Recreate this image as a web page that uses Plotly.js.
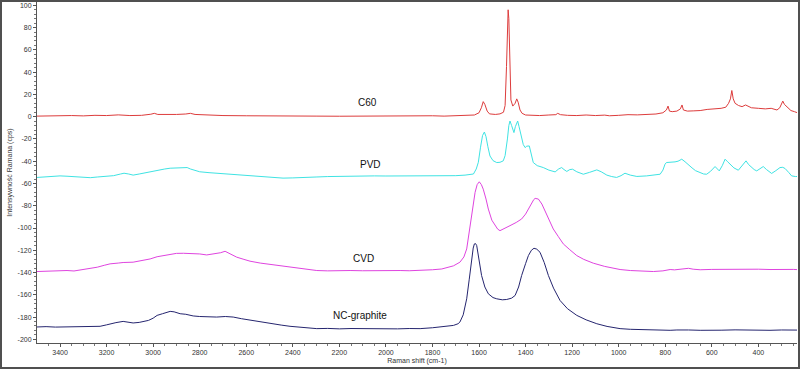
<!DOCTYPE html>
<html>
<head>
<meta charset="utf-8">
<script src="https://cdn.plot.ly/plotly-3.0.1.min.js"></script>
<style>
html,body{margin:0;padding:0;background:#fff;}
#wrap{position:relative;width:800px;height:369px;}
#chart{width:800px;height:369px;}
#frame{position:absolute;left:0;top:0;width:800px;height:369px;box-sizing:border-box;border:2px solid #505050;pointer-events:none;}
</style>
</head>
<body>
<div id="wrap"><div id="chart"></div><div id="frame"></div></div>
<script>
// ---- data ----
const seriesNames = ["C60", "PVD", "CVD", "NC-graphite"];

const c60X = [3499,3450,3400,3350,3300,3250,3200,3150,3100,3050,3010,2995,2980,2950,2900,2860,2840,2820,2780,2700,2600,2500,2400,2300,2200,2100,2000,1900,1800,1750,1700,1650,1620,1600,1590,1582,1575,1565,1555,1530,1510,1495,1488,1482,1478,1475,1472,1468,1463,1455,1445,1438,1432,1424,1415,1400,1380,1340,1300,1270,1262,1250,1220,1180,1140,1100,1060,1040,1000,960,920,880,840,810,795,788,782,770,750,735,728,722,705,680,650,620,590,560,540,528,520,514,508,500,485,470,455,445,430,400,370,345,320,308,300,295,288,275,260,245,232];
const c60Y = [0.5,0.8,0.6,1.0,0.7,1.2,1.0,1.6,1.0,1.2,2.2,3.0,2.0,1.8,2.0,2.4,3.0,2.0,1.6,1.0,0.8,0.5,0.3,0.5,0.4,0.6,0.5,0.7,0.8,0.5,1.0,1.2,1.5,3.5,8,13.5,11,5,2.5,2,2.5,4,10,45,85,96,88,50,15,9.5,12,16,13,6,3,1.5,1.2,1.0,1.5,1.8,3,1.8,1.2,1.0,1.5,1.0,1.4,0.8,1.2,1.8,1.6,2.0,2.4,3.5,6,9.5,5,4.5,5,7,10.5,6,5,5.2,5.5,6.5,7,7.5,8.5,12,16,23.5,16,12,10,9,10.5,9.5,8,7.5,7,7.5,6,8,12,14,11,8,5.5,4.5,3.5];

const pvdX = [3499,3470,3440,3400,3370,3330,3300,3270,3240,3200,3170,3140,3125,3105,3086,3060,3030,3000,2983,2950,2927,2900,2872,2854,2840,2800,2760,2726,2680,2640,2584,2540,2480,2442,2400,2369,2300,2250,2200,2154,2100,2050,2000,1939,1900,1853,1800,1750,1700,1660,1640,1624,1612,1603,1594,1585,1577,1570,1562,1553,1540,1524,1510,1496,1488,1482,1478,1472,1467,1460,1450,1444,1438,1434,1428,1420,1417,1410,1402,1395,1384,1375,1367,1350,1324,1300,1273,1258,1245,1235,1223,1210,1198,1180,1152,1125,1094,1075,1051,1030,1009,990,973,950,922,880,850,822,810,801,795,787,770,758,745,729,715,701,685,670,651,635,622,605,586,577,568,555,543,532,522,505,486,470,460,453,442,429,418,407,395,379,365,343,325,307,295,285,270,257,240,230];
const pvdY = [-54.6,-54,-53.4,-53.2,-53.5,-54.2,-54.6,-54.8,-54.2,-53.5,-53,-51.5,-50.8,-51.5,-52.5,-51.5,-50.2,-49,-48,-47,-46.3,-46,-45.7,-45.7,-47,-49.5,-50.3,-50.8,-51.8,-52.5,-53.2,-54,-54.8,-55.2,-55,-54.6,-54.2,-53.8,-53.5,-53.2,-53.5,-53.2,-53.3,-53.2,-53.5,-53.7,-53.4,-53.2,-53.0,-52.5,-52,-51.5,-47,-41,-28,-17,-13.8,-18,-27,-35.3,-39.5,-41.2,-41,-39.7,-35,-27,-20,-8,-3.9,-8,-14.3,-9,-4.5,-3.9,-9,-17,-20.3,-25,-27.8,-26.5,-26.3,-33,-41.2,-44,-45.7,-48,-49.6,-47,-45.7,-47.5,-49.2,-47.5,-47.2,-49.5,-51.7,-50,-47.8,-49.5,-52.5,-53.8,-54.6,-53,-50.8,-52.5,-53.7,-53.2,-52.5,-51.7,-48,-42.7,-41.2,-41.2,-41,-40.6,-40,-38.2,-40.5,-42.7,-46,-48.5,-50.1,-51.5,-51.7,-49,-44.8,-46.5,-48.7,-44,-38.2,-40.5,-42.7,-46,-48.1,-44,-40.5,-39.7,-43,-45.7,-47.5,-48.7,-47,-44.8,-47.5,-51,-48.5,-45.7,-45.5,-46.6,-50,-53.2,-53.8,-53.7];

const cvdX = [3499,3470,3440,3400,3370,3340,3300,3270,3240,3210,3185,3150,3129,3086,3050,3026,3013,2983,2960,2927,2900,2870,2830,2800,2770,2740,2710,2691,2675,2660,2641,2610,2584,2540,2490,2441,2400,2350,2297,2250,2200,2154,2100,2050,2000,1939,1900,1853,1800,1760,1739,1710,1682,1665,1653,1642,1632,1625,1617,1608,1599,1590,1582,1570,1560,1545,1531,1520,1510,1495,1480,1467,1440,1417,1400,1388,1375,1365,1359,1352,1345,1330,1316,1300,1281,1260,1238,1210,1180,1150,1109,1060,1020,994,950,900,851,810,779,760,720,700,680,650,600,550,500,450,400,350,300,250,232];
const cvdY = [-139.1,-138.8,-138.5,-138.5,-138.2,-138.6,-137.5,-136.5,-135.2,-133.5,-132.2,-131.5,-131,-130.7,-129.5,-128.3,-127.8,-125.8,-124.8,-123.3,-122.8,-122.7,-123,-123.3,-124.2,-123.5,-122.2,-120.9,-122.5,-124.5,-126.2,-128.2,-129.8,-131.5,-133,-134.3,-135.5,-136.8,-138.2,-138.5,-138,-138.2,-138.4,-138.2,-138.4,-138.2,-138.4,-138.2,-137.5,-136.8,-135.8,-134,-130.7,-126,-118.8,-104,-89,-77,-68,-61,-58.5,-61,-65.1,-74,-83,-93,-97.9,-101,-102.4,-101,-99,-97.9,-95,-91.9,-87.5,-83,-78,-74.5,-73.4,-73.5,-74,-78.5,-84.5,-92,-100.9,-107.5,-114.3,-119.5,-124.8,-128.2,-131.6,-134.5,-136.4,-137.3,-138.2,-138.8,-139.1,-138.5,-137.3,-137.6,-136.5,-136.2,-137,-137.5,-137.2,-137,-137.4,-137.2,-137,-137.3,-137,-137.2,-137.4];

const ncgX = [3499,3460,3420,3380,3340,3300,3270,3228,3200,3185,3160,3129,3100,3086,3060,3043,3020,3000,2983,2960,2940,2927,2910,2884,2860,2828,2800,2760,2727,2690,2656,2620,2580,2541,2500,2450,2412,2360,2297,2250,2200,2150,2100,2050,2000,1950,1900,1853,1800,1760,1710,1690,1682,1668,1653,1642,1632,1625,1620,1615,1610,1600,1589,1575,1560,1540,1524,1500,1481,1460,1445,1430,1417,1400,1388,1375,1364,1352,1338,1320,1302,1280,1252,1220,1180,1140,1094,1050,994,950,900,850,800,779,750,720,700,650,600,560,500,450,400,350,300,250,232];
const ncgY = [-188.9,-188.6,-189,-188.8,-188.4,-188.8,-188.3,-188.3,-187,-186,-185,-183.9,-184.5,-185.3,-184.8,-183.9,-183,-181,-178.5,-177,-175.5,-174.9,-175.3,-177,-177.5,-179,-179.5,-179.8,-180,-179.5,-180,-181.5,-183,-184.4,-185.8,-187.2,-188.3,-189.5,-190.4,-190.2,-190.6,-190.3,-190.5,-190.2,-190.4,-190.6,-190.3,-190.4,-189.6,-188.8,-187.5,-186,-184.4,-178,-163.6,-146,-127.8,-118,-114.3,-114,-115.8,-128,-142.7,-153,-159.1,-162.5,-163.6,-164.5,-164.2,-163,-160.6,-153,-142.7,-132,-124.8,-120,-118.2,-119,-121.8,-131,-142.7,-154,-165.1,-172.5,-178.5,-182.5,-186,-188.4,-190.4,-191,-191.4,-191.8,-191.9,-191.9,-191.6,-191.2,-191.6,-191.9,-191.5,-191.8,-191.5,-191.8,-191.6,-191.9,-191.6,-191.8,-191.7];

const seriesColors = ["#dd3c3c", "#3fe3e3", "#df44df", "#25256f"];

const xTickVals = [3400,3200,3000,2800,2600,2400,2200,2000,1800,1600,1400,1200,1000,800,600,400];
const xTickText = ["3400","3200","3000","2800","2600","2400","2200","2000","1800","1600","1400","1200","1000","800","600","400"];
const yTickVals = [100,80,60,40,20,0,-20,-40,-60,-80,-100,-120,-140,-160,-180,-200];
const yTickText = ["100","80","60","40","20","0","-20","-40","-60","-80","-100","-120","-140","-160","-180","-200"];

const xs = [c60X, pvdX, cvdX, ncgX];
const ys = [c60Y, pvdY, cvdY, ncgY];

const traces = seriesNames.map((n, i) => ({
  type: "scatter", mode: "lines", name: n,
  x: xs[i], y: ys[i],
  line: {color: seriesColors[i], width: 1},
  hoverinfo: "skip"
}));

const labelPos = [[2081, 12.5], [2065, -42.7], [2097, -127.8], [2110, -178.5]];
const annotations = seriesNames.map((n, i) => ({
  x: labelPos[i][0], y: labelPos[i][1], xref: "x", yref: "y",
  text: n, showarrow: false,
  font: {family: "Liberation Sans, Arial, sans-serif", size: 10, color: "#111"}
}));

const fontFam = "Liberation Sans, Arial, sans-serif";
const layout = {
  width: 800, height: 369,
  margin: {l: 37, r: 3, t: 2, b: 26, pad: 0},
  paper_bgcolor: "#ffffff", plot_bgcolor: "#ffffff",
  showlegend: false,
  font: {family: fontFam, size: 7, color: "#333"},
  xaxis: {
    range: [3499, 234], showgrid: false, zeroline: false,
    showline: true, linecolor: "#555", linewidth: 1,
    ticks: "outside", ticklen: 3, tickcolor: "#555",
    tickvals: xTickVals, ticktext: xTickText,
    tickfont: {family: fontFam, size: 7, color: "#333"},
    minor: {dtick: 50, tick0: 0, ticks: "outside", ticklen: 2, tickcolor: "#777", showgrid: false},
    title: {text: "Raman shift (cm-1)", font: {family: fontFam, size: 7, color: "#333"}, standoff: 2}
  },
  yaxis: {
    range: [-203.3, 103], showgrid: false, zeroline: false,
    showline: true, linecolor: "#555", linewidth: 1,
    ticks: "outside", ticklen: 3, tickcolor: "#555",
    tickvals: yTickVals, ticktext: yTickText,
    tickfont: {family: fontFam, size: 7, color: "#333"},
    minor: {dtick: 4, tick0: 0, ticks: "outside", ticklen: 2, tickcolor: "#777", showgrid: false},
    title: {text: "Intensywność Ramana (cps)", font: {family: fontFam, size: 7, color: "#333"}, standoff: 4}
  },
  annotations: annotations
};

Plotly.newPlot("chart", traces, layout, {staticPlot: true, displayModeBar: false});
</script>
</body>
</html>
